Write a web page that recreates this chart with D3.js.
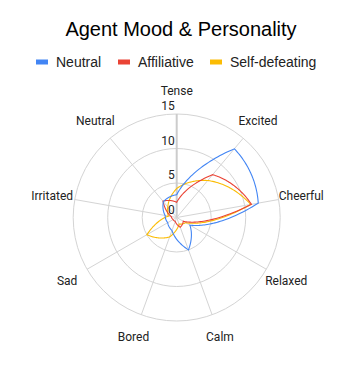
<!DOCTYPE html>
<html>
<head>
<meta charset="utf-8">
<script src="https://cdn.jsdelivr.net/npm/d3@7"></script>
<style>
  body { margin: 0; background: #fff; }
  svg text { font-family: Roboto, "Liberation Sans", Arial, sans-serif; }
</style>
</head>
<body>
<div id="chart"></div>
<script>
// Data //
var axes = ["Tense", "Excited", "Cheerful", "Relaxed", "Calm", "Bored", "Sad", "Irritated", "Neutral"];
var seriesNames = ["Neutral", "Affiliative", "Self-defeating"];
var neutral = [3.3, 13, 12, 2.2, 5, 2, 1.5, 1.7, 3];
var affiliative = [2.2, 8.1, 11, 1.1, 1.5, 0.6, 0.6, 0.8, 3.1];
var selfDefeating = [4.2, 7, 10.9, 1.5, 1, 3, 5, 1.2, 2];
var ticks = [0, 5, 10, 15];
var colors = ["#4285f4", "#ea4335", "#fbbc04"];

var width = 354, height = 371;
var cx = 176.7, cy = 217.5, outerRadius = 103.5, labelRadius = 126.5;

var svg = d3.select("#chart").append("svg")
  .attr("width", width)
  .attr("height", height);

// title
svg.append("text")
  .attr("x", 181)
  .attr("y", 36)
  .attr("text-anchor", "middle")
  .style("font-family", "'Liberation Sans', Arial, sans-serif")
  .style("font-size", "20px")
  .style("fill", "#000")
  .text("Agent Mood & Personality");

// legend
var legendX = [36, 118, 210];
var legend = svg.append("g").selectAll("g")
  .data(seriesNames)
  .enter().append("g")
  .attr("transform", function(d, i) { return "translate(" + legendX[i] + ",62)"; });

legend.append("rect")
  .attr("x", 0).attr("y", -2.5)
  .attr("width", 12).attr("height", 5)
  .attr("fill", function(d, i) { return colors[i]; });

legend.append("text")
  .attr("x", 20)
  .attr("dy", "0.36em")
  .style("font-family", "'Liberation Sans', Arial, sans-serif")
  .style("font-size", "14px")
  .style("fill", "#222")
  .text(function(d) { return d; });

// scales
var r = d3.scaleLinear().domain([0, 15]).range([0, outerRadius]);
var angle = d3.scalePoint().domain(axes).range([0, 2 * Math.PI * (axes.length - 1) / axes.length]);

var g = svg.append("g").attr("transform", "translate(" + cx + "," + cy + ")");

// rings
g.append("g").selectAll("circle")
  .data(ticks.slice(1))
  .enter().append("circle")
  .attr("r", r)
  .attr("fill", "none")
  .attr("stroke", "#d4d4d4")
  .attr("stroke-width", 1);

// spokes
g.append("g").selectAll("line")
  .data(axes)
  .enter().append("line")
  .attr("x1", 0).attr("y1", 0)
  .attr("x2", function(d) { return outerRadius * Math.sin(angle(d)); })
  .attr("y2", function(d) { return -outerRadius * Math.cos(angle(d)); })
  .attr("stroke", function(d, i) { return i === 0 ? "#cccccc" : "#d4d4d4"; })
  .attr("stroke-width", function(d, i) { return i === 0 ? 2 : 1; });

// closed curve that sweeps round the centre between points
// (radius eased geometrically, angle linear)
function polarSweep(context) {
  var pts;
  return {
    areaStart: function() {},
    areaEnd: function() {},
    lineStart: function() { pts = []; },
    point: function(x, y) {
      pts.push({r: Math.hypot(x, y), a: Math.atan2(x, -y)});
    },
    lineEnd: function() {
      var n = pts.length, steps = 40;
      context.moveTo(pts[0].r * Math.sin(pts[0].a), -pts[0].r * Math.cos(pts[0].a));
      for (var i = 0; i < n; i++) {
        var p = pts[i], q = pts[(i + 1) % n];
        var da = ((q.a - p.a) % (2 * Math.PI) + 2 * Math.PI) % (2 * Math.PI);
        for (var s = 1; s <= steps; s++) {
          var u = s / steps;
          var rr = p.r * Math.pow(q.r / p.r, u);
          var aa = p.a + da * u;
          context.lineTo(rr * Math.sin(aa), -rr * Math.cos(aa));
        }
      }
      context.closePath();
    }
  };
}

var radar = d3.lineRadial()
  .angle(function(d, i) { return angle(axes[i]); })
  .radius(function(d) { return r(d); })
  .curve(polarSweep);

var allSeries = [neutral, affiliative, selfDefeating];

// first dataset drawn last (on top)
g.append("g").selectAll("path")
  .data(allSeries.map(function(v, i) { return {values: v, i: i}; }).reverse())
  .enter().append("path")
  .attr("d", function(d) { return radar(d.values); })
  .attr("fill", "none")
  .attr("stroke", function(d) { return colors[d.i]; })
  .attr("stroke-width", 1.1)
  .attr("stroke-linejoin", "miter");

// tick labels
g.append("g").selectAll("text")
  .data(ticks)
  .enter().append("text")
  .attr("x", -2)
  .attr("y", function(d) { return -r(d) - 4; })
  .attr("text-anchor", "end")
  .style("font-size", "12px")
  .style("fill", "#222")
  .text(function(d) { return d; });

// axis labels
g.append("g").selectAll("text")
  .data(axes)
  .enter().append("text")
  .attr("x", function(d) { return labelRadius * Math.sin(angle(d)); })
  .attr("y", function(d) { return -labelRadius * Math.cos(angle(d)); })
  .attr("dy", "0.35em")
  .attr("text-anchor", "middle")
  .style("font-size", "12px")
  .style("fill", "#222")
  .text(function(d) { return d; });
</script>
</body>
</html>
